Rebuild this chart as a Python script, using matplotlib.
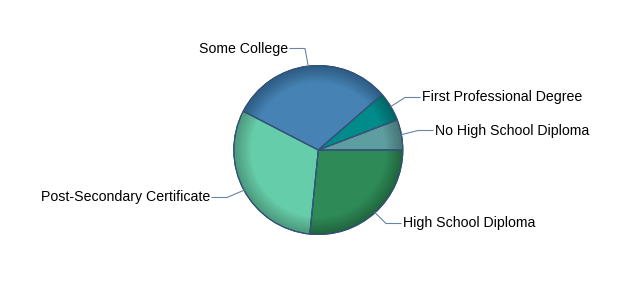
import numpy as np
import matplotlib
matplotlib.use('Agg')
import matplotlib.pyplot as plt
from matplotlib.patches import Wedge

# slice data, clockwise from 3 o'clock
labels = ["High School Diploma", "Post-Secondary Certificate", "Some College",
          "First Professional Degree", "No High School Diploma"]
shares = [26.6, 31.0, 31.0, 5.6, 5.8]
colors = ["#2E8B57", "#66CDAA", "#4682B4", "#008B8B", "#5F9EA0"]

plt.rcParams['font.family'] = ['Liberation Sans', 'DejaVu Sans']

fig = plt.figure(figsize=(6.35, 3.0), dpi=100)
ax = fig.add_axes([0, 0, 1, 1])

cx, cy, R = 318.3, 150.0, 84.5
edge_col = "#34557a"

wedges, _ = ax.pie(shares, colors=colors, startangle=0, counterclock=False,
                   center=(cx, cy), radius=R, frame=True,
                   wedgeprops=dict(edgecolor=edge_col, linewidth=0.8))
ax.set_xlim(0, 635)
ax.set_ylim(0, 300)
ax.set_aspect('equal')
ax.axis('off')

# darker rim shading
for r in np.linspace(0.80 * R, R, 14)[:-1]:
    ax.add_patch(Wedge((cx, cy), R, 0, 360, width=R - r, facecolor='black',
                       edgecolor='none', alpha=0.02, zorder=3))
# redraw slice borders on top
for w in wedges:
    ax.add_patch(Wedge((cx, cy), R, w.theta1, w.theta2, facecolor='none',
                       edgecolor=edge_col, linewidth=0.8, zorder=4))

# label placement (text anchor x, y in px from top, side)
label_pos = {
    "Some College": (288, 48.5, 'right'),
    "First Professional Degree": (422, 97.5, 'left'),
    "No High School Diploma": (435, 130.5, 'left'),
    "Post-Secondary Certificate": (210, 197.5, 'right'),
    "High School Diploma": (403, 223.5, 'left'),
}
conn_col = "#6a84a0"

for w, lab in zip(wedges, labels):
    mid = np.deg2rad((w.theta1 + w.theta2) / 2)
    x0, y0 = cx + R * np.cos(mid), cy + R * np.sin(mid)
    tx, ty, side = label_pos[lab]
    ty = 300 - ty
    if side == 'left':
        ex = tx - 17
        ax.plot([x0, ex, tx - 2], [y0, ty, ty], color=conn_col, lw=0.8, zorder=5)
        ax.text(tx, ty, lab, ha='left', va='center', fontsize=10.2, color='black')
    else:
        ex = tx + 17
        ax.plot([x0, ex, tx + 2], [y0, ty, ty], color=conn_col, lw=0.8, zorder=5)
        ax.text(tx, ty, lab, ha='right', va='center', fontsize=10.2, color='black')

fig.savefig("out.png", dpi=100)
